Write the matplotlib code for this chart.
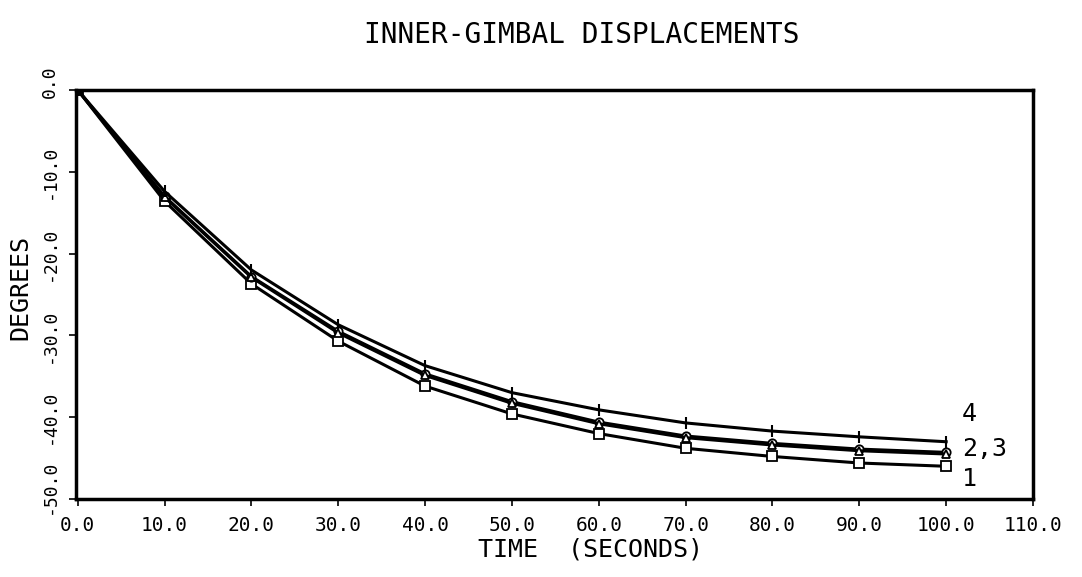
import matplotlib
matplotlib.use("Agg")
import matplotlib.pyplot as plt
import matplotlib.transforms as mtransforms

# ---- data ----
time_s = [0, 10, 20, 30, 40, 50, 60, 70, 80, 90, 100]
curve_1 = [0.0, -13.6, -23.7, -30.7, -36.2, -39.6, -42.0, -43.8, -44.8, -45.6, -46.0]
curve_2 = [0.0, -13.0, -22.8, -29.5, -34.7, -38.1, -40.6, -42.3, -43.2, -43.9, -44.3]
curve_3 = [0.0, -13.1, -22.9, -29.7, -34.9, -38.3, -40.8, -42.5, -43.4, -44.1, -44.5]
curve_4 = [0.0, -12.4, -22.0, -28.7, -33.7, -37.0, -39.1, -40.7, -41.7, -42.4, -43.0]

x_ticks = [0, 10, 20, 30, 40, 50, 60, 70, 80, 90, 100, 110]
y_ticks = [0, -10, -20, -30, -40, -50]
x_tick_labels = ["0.0", "10.0", "20.0", "30.0", "40.0", "50.0", "60.0",
                 "70.0", "80.0", "90.0", "100.0", "110.0"]
y_tick_labels = ["0.0", "-10.0", "-20.0", "-30.0", "-40.0", "-50.0"]

curve_labels = ["1", "2,3", "4"]
label_y = [-47.6, -43.9, -39.6]

title = "INNER-GIMBAL DISPLACEMENTS"
xlabel = "TIME  (SECONDS)"
ylabel = "DEGREES"

FONT = "DejaVu Sans Mono"

fig = plt.figure(figsize=(10.82, 5.77), dpi=100)
W, H = 1082, 577
ax = fig.add_axes([76 / W, 1 - 499 / H, (1033 - 76) / W, (499 - 90) / H])

lw = 2.2
ms = 7
ax.plot(time_s, curve_1, color="black", lw=lw, marker="s", ms=ms,
        mfc="white", mec="black", mew=1.3)
ax.plot(time_s, curve_2, color="black", lw=lw, marker="o", ms=ms - 1,
        mfc="white", mec="black", mew=1.3)
ax.plot(time_s, curve_3, color="black", lw=lw, marker="^", ms=ms - 1,
        mfc="white", mec="black", mew=1.3)
ax.plot(time_s, curve_4, color="black", lw=lw, marker="|", ms=ms + 2,
        mec="black", mew=1.5)

ax.set_xlim(-0.2, 110)
ax.set_ylim(-50, 0)
ax.set_xticks(x_ticks)
ax.set_xticklabels(x_tick_labels, fontfamily=FONT, fontsize=14)
ax.set_yticks(y_ticks)
ax.set_yticklabels(y_tick_labels, fontfamily=FONT, fontsize=13,
                   rotation=90, va="center")
ax.tick_params(axis="both", direction="out", length=5, width=1.2,
               color="black")
ax.tick_params(axis="x", pad=7)
ax.tick_params(axis="y", pad=7)
for sp in ax.spines.values():
    sp.set_linewidth(2.5)
    sp.set_color("black")

# lift the lowest y label and the top one a little, as in the reference
ylabs = ax.get_yticklabels()
ylabs[-1].set_transform(ylabs[-1].get_transform() +
                        mtransforms.ScaledTranslation(0, 12 / 100, fig.dpi_scale_trans))
ylabs[0].set_transform(ylabs[0].get_transform() +
                       mtransforms.ScaledTranslation(0, 8 / 100, fig.dpi_scale_trans))

# curve labels at the right end
ax.text(101.8, label_y[0], curve_labels[0], fontfamily=FONT, fontsize=18,
        ha="left", va="center")
ax.text(101.8, label_y[1], curve_labels[1], fontfamily=FONT, fontsize=18,
        ha="left", va="center")
ax.text(101.8, label_y[2], curve_labels[2], fontfamily=FONT, fontsize=18,
        ha="left", va="center")

fig.text(582 / W, 1 - 35 / H, title, fontfamily=FONT, fontsize=20,
         ha="center", va="center")
fig.text(590 / W, 1 - 550 / H, xlabel, fontfamily=FONT, fontsize=18,
         ha="center", va="center")
fig.text(20 / W, 1 - 287 / H, ylabel, fontfamily=FONT, fontsize=18,
         ha="center", va="center", rotation=90)

fig.savefig("out.png", dpi=100, facecolor="white")
